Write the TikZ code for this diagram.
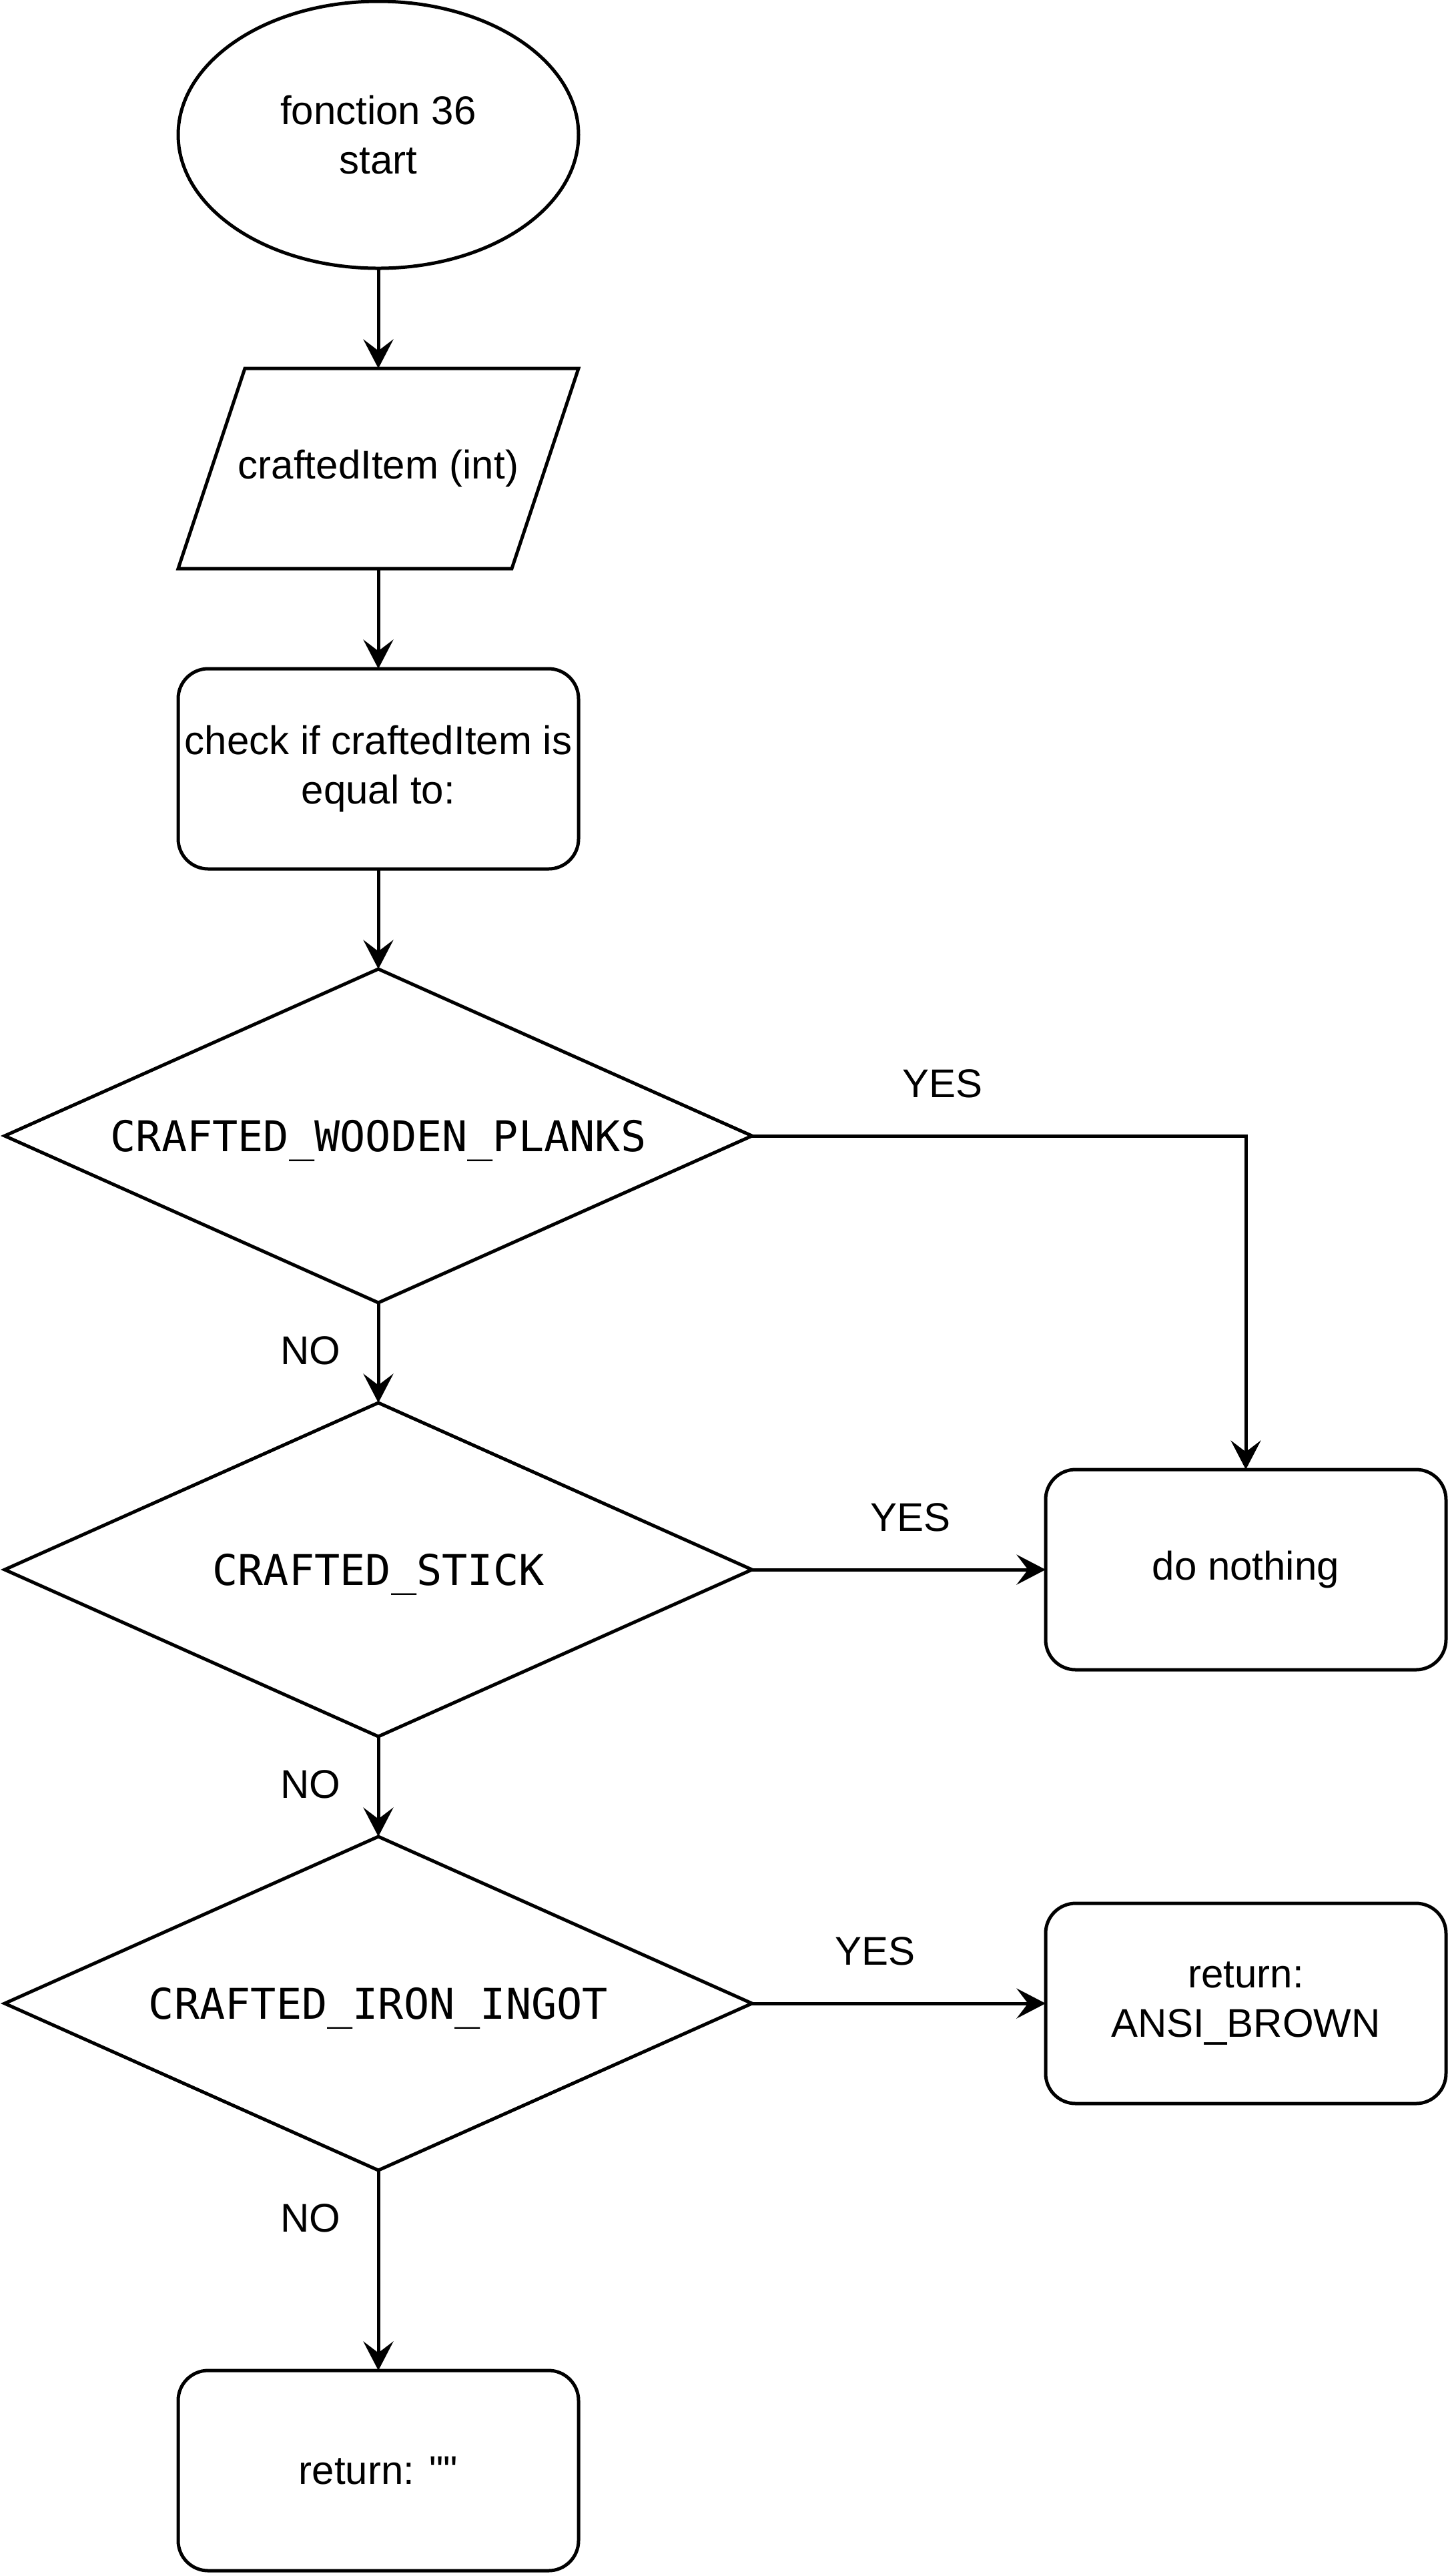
\documentclass[tikz,border=0pt]{standalone}
\usepackage{fontspec}
\setmainfont{Liberation Sans}
\newfontfamily\qfont{Liberation Sans}[Ligatures=TeXOff]
\newfontfamily\codefont{DejaVu Sans Mono}
\usetikzlibrary{shapes.geometric,arrows.meta}
\tikzset{
  base/.style={line width=1pt, font=\fontsize{12}{14.8}\selectfont, align=center, inner sep=0pt, outer sep=0pt},
  startnode/.style={base, draw, ellipse, minimum width=120pt, minimum height=80pt},
  iobox/.style={base, rectangle, minimum width=120pt, minimum height=60pt},
  procbox/.style={base, draw, rectangle, rounded corners=9pt, minimum width=120pt, minimum height=60pt},
  decision/.style={base, draw, diamond, aspect=2.24, minimum width=224pt, minimum height=100pt, text depth=0pt, font=\codefont\fontsize{12.7}{15}\selectfont},
  arr/.style={line width=1pt, -{Stealth[length=8.7pt,width=9pt,inset=3.4pt]}},
  lbl/.style={font=\fontsize{12}{14.8}\selectfont, inner sep=0pt}
}
\begin{document}
\begin{tikzpicture}[x=1pt,y=-1pt]
\useasboundingbox (0,0) rectangle (434,772);
\node[startnode] (start) at (113.4,40.4) {fonction 36\\start};
\node[iobox] (inp) at (113.4,140.4) {craftedItem (int)};
\draw[line width=1pt, line join=miter] ([xshift=20pt]inp.north west) -- (inp.north east) -- ([xshift=-20pt]inp.south east) -- (inp.south west) -- cycle;
\node[procbox] (chk) at (113.4,230.4) {check if craftedItem is\\equal to:};
\node[decision] (d1) at (113.4,340.4) {CRAFTED\_WOODEN\_PLANKS};
\node[decision] (d2) at (113.4,470.4) {CRAFTED\_STICK};
\node[decision] (d3) at (113.4,600.4) {CRAFTED\_IRON\_INGOT};
\node[procbox] (dn) at (373.4,470.4) {do nothing};
\node[procbox] (brown) at (373.4,600.4) {return:\\ANSI\_BROWN};
\node[procbox] (ret) at (113.4,740.4) {return: {\qfont\fontsize{12}{14.8}\selectfont ""}};

\draw[arr] (start.south) -- (inp.north);
\draw[arr] (inp.south) -- (chk.north);
\draw[arr] (chk.south) -- (d1.north);
\draw[arr] (d1.south) -- (d2.north);
\draw[arr] (d2.south) -- (d3.north);
\draw[arr] (d3.south) -- (ret.north);
\draw[arr] (d1.east) -- node[lbl, pos=0.386, yshift=15.7pt] {YES} (d1.east -| dn.north) -- (dn.north);
\draw[arr] (d2.east) -- node[lbl, pos=0.54, yshift=15.7pt] {YES} (dn.west);
\draw[arr] (d3.east) -- node[lbl, pos=0.42, yshift=15.6pt] {YES} (brown.west);
\node[lbl] (no1) at ([xshift=-20.3pt,yshift=-14.4pt]d1.south) {NO};
\node[lbl] (no2) at ([xshift=-20.3pt,yshift=-14.4pt]d2.south) {NO};
\node[lbl] (no3) at ([xshift=-20.3pt,yshift=-14.4pt]d3.south) {NO};
\end{tikzpicture}
\end{document}
